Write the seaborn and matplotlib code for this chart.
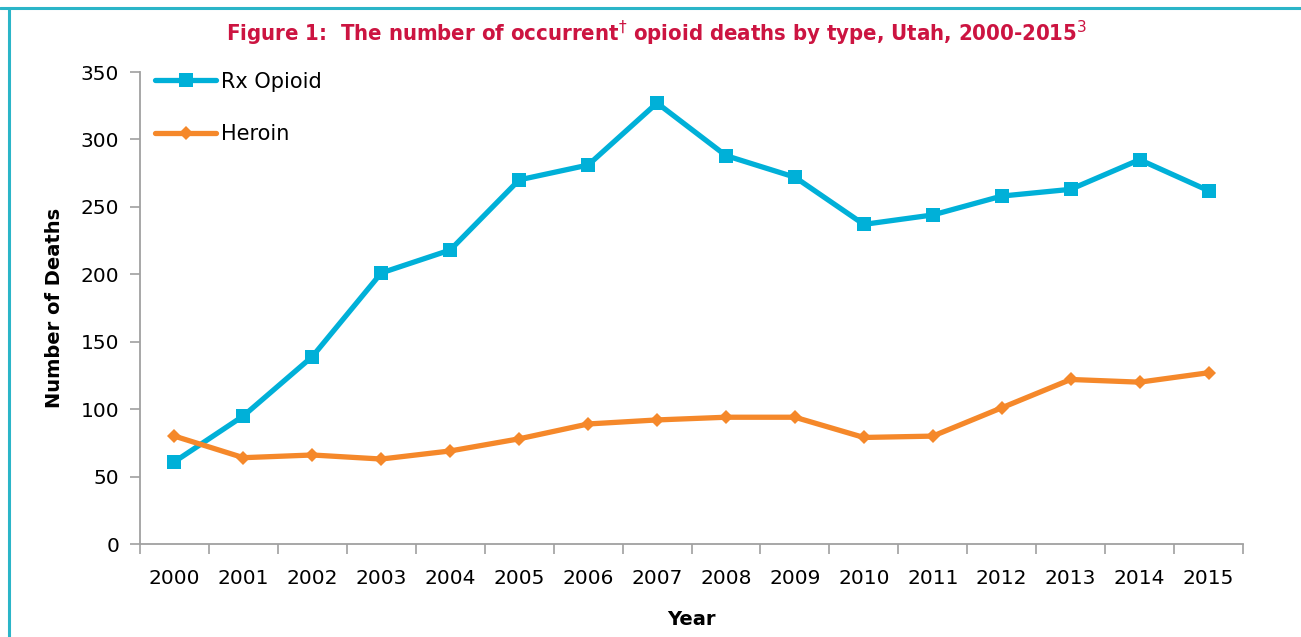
import matplotlib
matplotlib.use("Agg")
import matplotlib.pyplot as plt
from matplotlib.lines import Line2D
from matplotlib.ticker import FixedLocator
import seaborn as sns
import pandas as pd

years = list(range(2000, 2016))
rx_opioid = [61, 95, 139, 201, 218, 270, 281, 327, 288, 272, 237, 244, 258, 263, 285, 262]
heroin = [80, 64, 66, 63, 69, 78, 89, 92, 94, 94, 79, 80, 101, 122, 120, 127]
series_names = ["Rx Opioid", "Heroin"]
y_ticks = [0, 50, 100, 150, 200, 250, 300, 350]

df = pd.DataFrame({
    "Year": years * 2,
    "Deaths": rx_opioid + heroin,
    "Type": [series_names[0]] * len(years) + [series_names[1]] * len(years),
})

sns.set_theme(style="white")
plt.rcParams['font.family'] = ['DejaVu Sans']
plt.rcParams['text.color'] = 'black'
plt.rcParams['axes.labelcolor'] = 'black'

W, H = 1301, 637
fig = plt.figure(figsize=(W / 100, H / 100), dpi=100)
ax = fig.add_axes([140 / W, (H - 544) / H, 1103 / W, 472 / H])

colors = {"Rx Opioid": "#00B0D8", "Heroin": "#F5882A"}
markers = {"Rx Opioid": "s", "Heroin": "D"}
sizes = {"Rx Opioid": 10.5, "Heroin": 7.5}

for name in series_names:
    sub = df[df["Type"] == name]
    sns.lineplot(data=sub, x="Year", y="Deaths", ax=ax, color=colors[name],
                 linewidth=3.8, marker=markers[name], markersize=sizes[name],
                 markeredgewidth=0, legend=False)

ax.set_xlim(1999.5, 2015.5)
ax.set_ylim(0, 350)
ax.set_yticks(y_ticks)
ax.set_xticks(years)
ax.set_xticklabels([str(y) for y in years])
ax.xaxis.set_minor_locator(FixedLocator([y + 0.5 for y in [1999] + years]))
ax.tick_params(axis="x", which="major", length=0, pad=18, labelsize=14.5, labelcolor="black")
ax.tick_params(axis="x", which="minor", length=7, width=1.2, color="#A0A0A0", bottom=True)
ax.tick_params(axis="y", which="major", length=7, width=1.2, color="#A0A0A0", left=True,
               labelsize=14.5, pad=8, labelcolor="black")

for s in ["top", "right"]:
    ax.spines[s].set_visible(False)
for s in ["left", "bottom"]:
    ax.spines[s].set_color("#A0A0A0")
    ax.spines[s].set_linewidth(1.3)

ax.set_xlabel("Year", fontsize=14, fontweight="bold", labelpad=16, color="black")
ax.set_ylabel("Number of Deaths", fontsize=14, fontweight="bold", labelpad=12, color="black")
ax.grid(False)

handles = [Line2D([0], [0], color=colors[n], linewidth=3.8, marker=markers[n],
                  markersize=sizes[n], markeredgewidth=0) for n in series_names]
leg = ax.legend(handles, series_names, loc="upper left", bbox_to_anchor=(-0.005, 1.045),
                frameon=False, fontsize=15, handlelength=2.9, handletextpad=0.25,
                labelspacing=1.55, borderaxespad=0.6)
for t in leg.get_texts():
    t.set_color("black")

fig.text(657 / W, 1 - 33 / H,
         "Figure 1:  The number of occurrent$^{\\dagger}$ opioid deaths by type, Utah, 2000-2015$^{3}$",
         ha="center", va="center", fontsize=15.8, fontweight="bold", color="#CC1441",
         family="DejaVu Sans", fontstretch="condensed")

border = "#2BB5C8"
fig.add_artist(Line2D([0, 1], [1 - 8 / H, 1 - 8 / H], transform=fig.transFigure,
                      color=border, linewidth=2.2))
fig.add_artist(Line2D([9 / W, 9 / W], [0, 1 - 8 / H], transform=fig.transFigure,
                      color=border, linewidth=2.2))

fig.savefig("out.png", dpi=100)
